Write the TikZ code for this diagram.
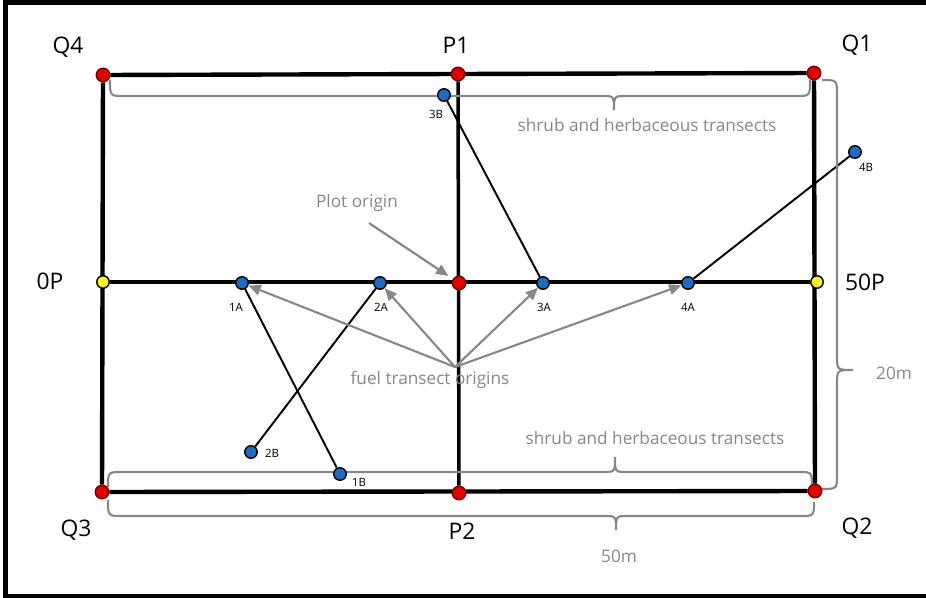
\documentclass[tikz,border=0pt]{standalone}
\usepackage{fontspec}
\setmainfont{Open Sans}
\usetikzlibrary{arrows.meta,backgrounds}

\definecolor{dotred}{RGB}{228,0,0}
\definecolor{dotblue}{RGB}{28,108,196}
\definecolor{dotyellow}{RGB}{248,242,30}
\definecolor{notegray}{RGB}{135,135,135}

\tikzset{
  dot/.style={circle, draw=black, line width=0.8pt, minimum size=0.25cm, inner sep=0pt},
  corner/.style={dot, fill=dotred, draw=red!45!black, minimum size=0.27cm},
  endpt/.style={dot, fill=dotyellow},
  origin/.style={dot, fill=dotblue},
  bigtxt/.style={font=\fontsize{13}{15}\selectfont},
  smalltxt/.style={font=\fontsize{6.5}{8}\selectfont},
  note/.style={text=notegray, font=\fontsize{9.8}{12}\selectfont},
  frame/.style={line width=2.8pt},
  edge/.style={line width=2.5pt},
  axis/.style={line width=2pt},
  transect/.style={line width=1.1pt},
  brace/.style={draw=notegray, line width=1.2pt},
  pointer/.style={draw=notegray, line width=1.2pt, -{Triangle[length=7pt,width=6pt]}}
}

\begin{document}
\begin{tikzpicture}[x=0.02cm, y=-0.02cm]
  \useasboundingbox (0,0) rectangle (926,598);

  % plot corners and centre line
  \node[corner] (q4) at (103,75) {};
  \node[corner] (p1) at (458,74) {};
  \node[corner] (q1) at (814,73) {};
  \node[corner] (q3) at (102,492) {};
  \node[corner] (p2) at (459,493) {};
  \node[corner] (q2) at (815,491) {};
  \node[endpt] (op0) at (103,282) {};
  \node[endpt] (op50) at (817,282) {};
  \node[corner] (c) at (459,283) {};

  % transect ends
  \node[origin] (a1) at (242,283) {};
  \node[origin] (a2) at (380,283) {};
  \node[origin] (a3) at (543,283) {};
  \node[origin] (a4) at (688,283) {};
  \node[origin] (b1) at (340,474) {};
  \node[origin] (b2) at (251,452) {};
  \node[origin] (b3) at (444,95) {};
  \node[origin] (b4) at (855,152) {};

  \coordinate (po) at (369,223);
  \coordinate (fo) at (455,367);

  % labels
  \node[bigtxt] (lq4) at (68,47) {Q4};
  \node[bigtxt] (lp1) at (456,45) {P1};
  \node[bigtxt] (lq1) at (857,45) {Q1};
  \node[bigtxt] (lop0) at (50,281) {0P};
  \node[bigtxt] (lop50) at (865,282) {50P};
  \node[bigtxt] (lq3) at (76,530) {Q3};
  \node[bigtxt] (lp2) at (462,531) {P2};
  \node[bigtxt] (lq2) at (857,528) {Q2};

  \node[smalltxt] (la1) at (236,307) {1A};
  \node[smalltxt] (la2) at (381,307) {2A};
  \node[smalltxt] (la3) at (544,307) {3A};
  \node[smalltxt] (la4) at (688,307) {4A};
  \node[smalltxt] (lb1) at (359,482) {1B};
  \node[smalltxt] (lb2) at (272,453) {2B};
  \node[smalltxt] (lb3) at (436,114) {3B};
  \node[smalltxt] (lb4) at (866,167) {4B};

  \node[note] (plotlbl) at (357,203) {Plot origin};
  \node[note] (fuellbl) at (430,380) {fuel transect origins};
  \node[note] (toplbl) at (647,125) {shrub and herbaceous transects};
  \node[note] (botlbl) at (655,438) {shrub and herbaceous transects};
  \node[note] (widthlbl) at (894,373) {20m};
  \node[note] (lenlbl) at (619,556) {50m};

  \begin{scope}[on background layer]
    \draw[frame] (926,2.5) -- (5.5,2.5) -- (5.5,596) -- (926,596);
    \draw[edge] (q4) -- (q1);
    \draw[edge] (q1) -- (q2);
    \draw[edge] (q2) -- (q3);
    \draw[edge] (q3) -- (q4);
    \draw[axis] (p1) -- (p2);
    \draw[axis] (op0) -- (op50);
    \draw[transect] (a1) -- (b1);
    \draw[transect] (a2) -- (b2);
    \draw[transect] (a3) -- (b3);
    \draw[transect] (a4) -- (b4);
    % braces
    \draw[brace] (110,80) .. controls (110,96) .. (124,96) -- (602,96)
      .. controls (614,96) .. (614,110) .. controls (614,96) .. (626,96)
      -- (796,96) .. controls (810,96) .. (810,80);
    \draw[brace] (108,487) .. controls (108,472) .. (122,472) -- (603,472)
      .. controls (615,472) .. (615,457) .. controls (615,472) .. (627,472)
      -- (798,472) .. controls (812,472) .. (812,487);
    \draw[brace] (108,500) .. controls (108,516) .. (122,516) -- (604,516)
      .. controls (616,516) .. (616,530) .. controls (616,516) .. (628,516)
      -- (800,516) .. controls (814,516) .. (814,502);
    \draw[brace] (822,80) .. controls (837,80) .. (837,95) -- (837,356)
      .. controls (837,370) .. (853,370) .. controls (837,370) .. (837,384)
      -- (837,474) .. controls (837,489) .. (822,489);
  \end{scope}

  \draw[pointer, shorten >=3pt] (po) -- (c);
  \foreach \t in {a1,a2,a3,a4}
    \draw[pointer] (fo) -- (\t);
\end{tikzpicture}
\end{document}
